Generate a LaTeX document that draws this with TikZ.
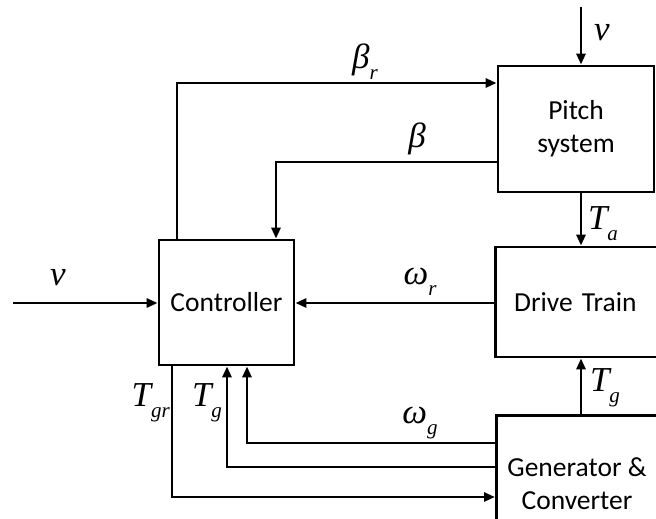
\documentclass[tikz,border=0pt]{standalone}
\usepackage{fontspec}
\setmainfont{Carlito}
\newfontfamily\labfont{Liberation Serif}
\usetikzlibrary{arrows.meta}
\newcommand{\mlab}[2]{{\fontsize{35}{35}\labfont\itshape #1\raisebox{-0.32em}{\fontsize{21}{21}\selectfont #2}}}
\tikzset{
  blk/.style={draw, line width=2.8pt, align=center, font=\fontsize{27.5}{33}\selectfont, inner sep=0pt},
  sig/.style={line width=2.8pt, -{Triangle[length=11pt,width=9pt]}},
  lab/.style={inner sep=0pt}
}
\begin{document}
\begin{tikzpicture}[x=1pt,y=-1pt]
\useasboundingbox (0,0) rectangle (656,519);
\clip (0,0) rectangle (656,519);
% blocks
\node[blk, minimum width=135pt, minimum height=125pt] (ctrl) at (226.5,302.5) {Controller};
\node[blk, minimum width=156pt, minimum height=126pt] (pitch) at (576,129) {Pitch\\system};
\node[blk, minimum width=200pt, minimum height=110pt, text width=160pt, anchor=west] (drive) at (494,302) {\hspace*{-40pt}Drive Train};
\node[blk, minimum width=200pt, minimum height=140pt, anchor=north west, text width=200pt] (gen) at (495,414) {};
\node[lab, font=\fontsize{27.5}{33}\selectfont, align=center] (gentext) at (577,484) {Generator \&\\Converter};
% coordinates
\coordinate (vtop) at (581,7);
\coordinate (vleft) at (13,303);
\coordinate (br1) at (177,83);
\coordinate (b1) at (276,162);
\coordinate (tgr1) at (172,497);
\coordinate (tg1) at (227,467);
\coordinate (wg1) at (247,443);
% connectors
\draw[sig] (vtop) -- (pitch.north -| vtop);
\draw[sig] (pitch.south -| vtop) -- (drive.north -| vtop);
\draw[sig] (gen.north -| vtop) -- (drive.south -| vtop);
\draw[sig] (vleft) -- (ctrl.west |- vleft);
\draw[sig] (drive.west |- vleft) -- (ctrl.east |- vleft);
\draw[sig] (ctrl.north -| br1) -- (br1) -- (pitch.west |- br1);
\draw[sig] (pitch.west |- b1) -- (b1) -- (ctrl.north -| b1);
\draw[sig] (ctrl.south -| tgr1) -- (tgr1) -- (gen.west |- tgr1);
\draw[sig] (gen.west |- tg1) -- (tg1) -- (ctrl.south -| tg1);
\draw[sig] (gen.west |- wg1) -- (wg1) -- (ctrl.south -| wg1);
% labels
\node[lab] (lv1) at (602,38) {\mlab{v}{}};
\node[lab] (lv2) at (58,283) {\mlab{v}{}};
\node[lab] (lbr) at (365,62) {\mlab{β}{r}};
\node[lab] (lb) at (417,141) {\mlab{β}{}};
\node[lab] (lwr) at (420,282) {\mlab{ω}{r}};
\node[lab] (lta) at (603,224) {\mlab{T}{a}};
\node[lab] (ltg2) at (605,388) {\mlab{T}{g}};
\node[lab,anchor=east] (ltgr) at (170,403) {\mlab{T}{gr}};
\node[lab] (ltg1) at (207,403) {\mlab{T}{g}};
\node[lab] (lwg) at (420,423) {\mlab{ω}{g}};
\end{tikzpicture}
\end{document}
